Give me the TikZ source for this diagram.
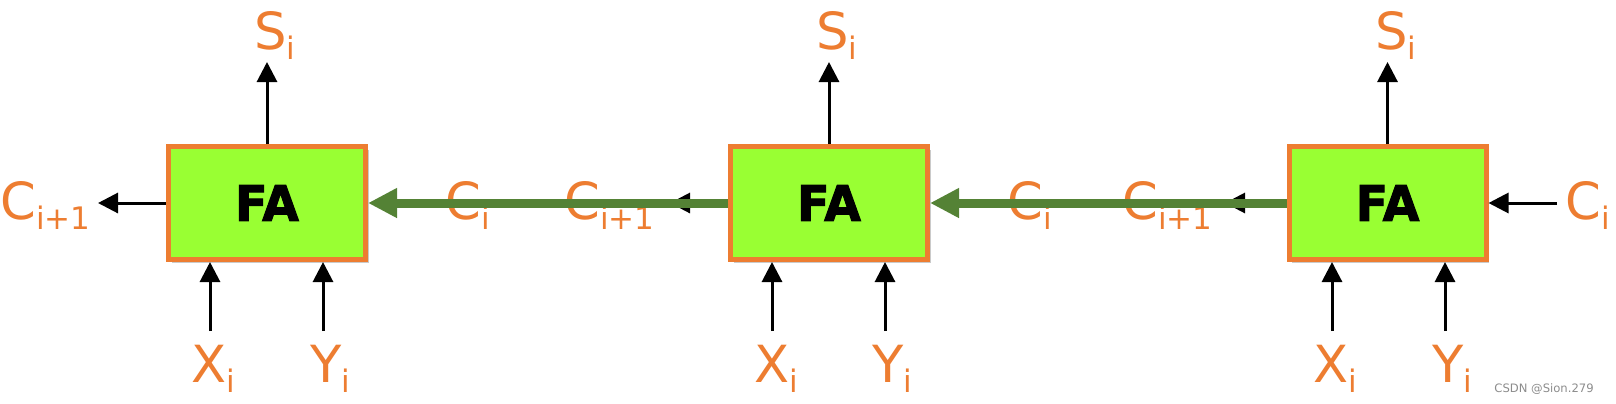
\documentclass[tikz,border=0pt]{standalone}
\usepackage{fontspec}
\setmainfont{DejaVu Sans}
\newfontfamily\heavyfont[FakeBold=2]{DejaVu Sans Bold}
\usetikzlibrary{arrows.meta,shadows}
\definecolor{labor}{HTML}{ED7D31}
\definecolor{boxfill}{HTML}{99FF33}
\definecolor{carry}{HTML}{548235}
\newcommand{\sublbl}[2]{#1\raisebox{-5pt}{\fontsize{15.5}{16}\selectfont #2}}
\begin{document}
\begin{tikzpicture}[x=0.5pt,y=-0.5pt,
  fabox/.style={draw=labor, line width=2.5pt, fill=boxfill, minimum width=98.5pt, minimum height=56.5pt, inner sep=0pt,
    drop shadow={shadow xshift=1.5pt, shadow yshift=-1.5pt, opacity=0.35, fill=black!60},
    font=\heavyfont\fontsize{24.5}{25}\selectfont},
  lbl/.style={text=labor, font=\fontsize{25.6}{26}\selectfont, inner sep=0pt, anchor=base west},
  sig/.style={-{Triangle[length=10pt,width=10pt]}, line width=1.5pt, black},
  carryarrow/.style={-{Triangle[length=14.5pt,width=14pt]}, line width=4.5pt, carry}
]
\useasboundingbox (0,0) rectangle (1616,403);

% boxes
\node[fabox] (fa1) at (267,203) {\raisebox{-1pt}{\scalebox{0.97}[1]{FA}}};
\node[fabox] (fa2) at (829,203) {\raisebox{-1pt}{\scalebox{0.97}[1]{FA}}};
\node[fabox] (fa3) at (1387.5,203) {\raisebox{-1pt}{\scalebox{0.97}[1]{FA}}};

% free ends
\coordinate (s1) at (267,62);
\coordinate (s2) at (829,62);
\coordinate (s3) at (1387.5,62);
\coordinate (x1) at (210,331);
\coordinate (y1) at (323,331);
\coordinate (x2) at (772,331);
\coordinate (y2) at (885,331);
\coordinate (x3) at (1332,331);
\coordinate (y3) at (1445,331);
\coordinate (co1) at (98,203);
\coordinate (co2) at (670,203);
\coordinate (co3) at (1225,203);
\coordinate (ci3) at (1557,203);

% black signal arrows
\draw[sig] (fa1.north) -- (s1);
\draw[sig] (fa2.north) -- (s2);
\draw[sig] (fa3.north) -- (s3);
\draw[sig] (x1) -- (x1 |- fa1.south);
\draw[sig] (y1) -- (y1 |- fa1.south);
\draw[sig] (x2) -- (x2 |- fa2.south);
\draw[sig] (y2) -- (y2 |- fa2.south);
\draw[sig] (x3) -- (x3 |- fa3.south);
\draw[sig] (y3) -- (y3 |- fa3.south);
\draw[sig] (fa1.west) -- (co1);
\draw[sig] (fa2.west) -- (co2);
\draw[sig] (fa3.west) -- (co3);
\draw[sig] (ci3) -- (fa3.east);

% labels
\node[lbl] (ls1) at (254,49) {\sublbl{S}{i}};
\node[lbl] (ls2) at (816,49) {\sublbl{S}{i}};
\node[lbl] (ls3) at (1375,49) {\sublbl{S}{i}};
\node[lbl] (lx1) at (191,382) {\sublbl{X}{i}};
\node[lbl] (ly1) at (310,382) {\sublbl{Y}{i}};
\node[lbl] (lx2) at (754,382) {\sublbl{X}{i}};
\node[lbl] (ly2) at (872,382) {\sublbl{Y}{i}};
\node[lbl] (lx3) at (1313,382) {\sublbl{X}{i}};
\node[lbl] (ly3) at (1432,382) {\sublbl{Y}{i}};
\node[lbl] (lco1) at (0,219) {\sublbl{C}{i+1}};
\node[lbl] (lci1) at (445,219) {\sublbl{C}{i}};
\node[lbl] (lco2) at (564,219) {\sublbl{C}{i+1}};
\node[lbl] (lci2) at (1007,219) {\sublbl{C}{i}};
\node[lbl] (lco3) at (1122,219) {\sublbl{C}{i+1}};
\node[lbl] (lci3) at (1565,219) {\sublbl{C}{i}};

% green carry arrows on top
\draw[carryarrow] (fa2.west) -- (fa1.east);
\draw[carryarrow] (fa3.west) -- (fa2.east);

% watermark
\node[text=black!45, font=\fontsize{5.8}{6}\selectfont, inner sep=0pt, anchor=base west] (wm) at (1494,392) {CSDN @Sion.279};
\end{tikzpicture}
\end{document}
